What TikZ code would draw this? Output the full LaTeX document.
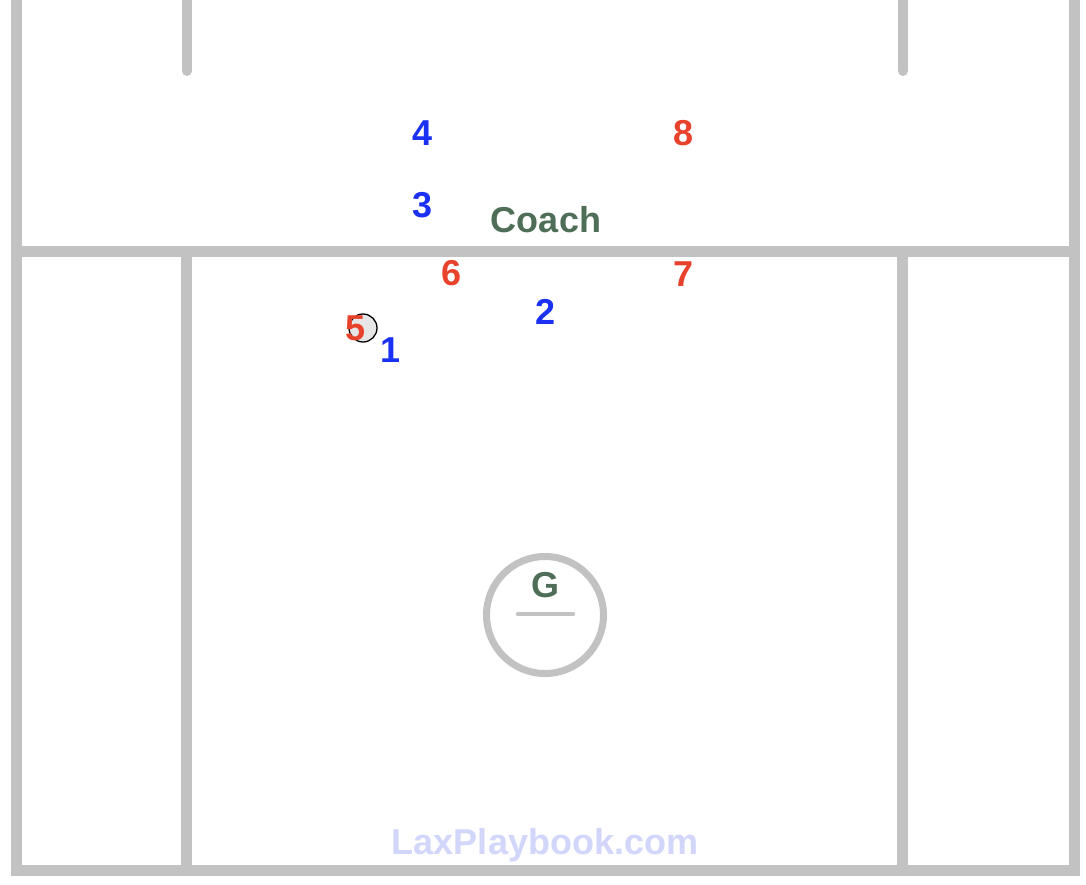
\documentclass[tikz,border=0pt]{standalone}
\usepackage{fontspec}
\setmainfont{Liberation Sans}
\newfontfamily\lblfont{Liberation Sans Bold}
\definecolor{fieldgray}{HTML}{C2C2C2}
\definecolor{offblue}{HTML}{1A30F2}
\definecolor{defred}{HTML}{E8422C}
\definecolor{coachgreen}{HTML}{4E6E58}
\definecolor{wmark}{HTML}{D2D6FA}
\definecolor{ballfill}{HTML}{E6E6E6}
\begin{document}
\begin{tikzpicture}[x=1pt,y=-1pt,
  fieldline/.style={draw=fieldgray,line width=11pt},
  lbl/.style={inner sep=0pt,font=\lblfont\fontsize{36}{36}\selectfont},
  blueplayer/.style={lbl,text=offblue},
  redplayer/.style={lbl,text=defred},
  greenlbl/.style={lbl,text=coachgreen}]
\fill[white] (0,0) rectangle (1086,884);
\useasboundingbox (0,0) rectangle (1086,884);
% field lines
\draw[fieldline,line join=miter] (16,0) -- (16,870) -- (1074,870) -- (1074,0);
\draw[fieldline] (16,251.5) -- (1074,251.5);
\draw[fieldline] (186,251.5) -- (186,870);
\draw[fieldline] (902,251.5) -- (902,870);
\draw[fieldline,line width=10pt,line cap=round] (187,0) -- (187,71);
\draw[fieldline,line width=10pt,line cap=round] (903,0) -- (903,71);
% goal crease
\draw[draw=fieldgray,line width=7pt] (545,615) circle (58.5);
\draw[draw=fieldgray,line width=4.5pt,line cap=round] (518,614) -- (573,614);
\node[greenlbl] (goalie) at (545,585) {G};
\node[greenlbl] (coach) at (546,220) {Coach};
% ball
\draw[fill=ballfill,draw=black,line width=1.3pt] (363,328) circle (14);
% players
\node[blueplayer] (p4) at (423,133) {4};
\node[redplayer] (p8) at (684,133) {8};
\node[blueplayer] (p3) at (423,205) {3};
\node[redplayer] (p6) at (452,273) {6};
\node[redplayer] (p7) at (684,274) {7};
\node[blueplayer] (p2) at (546,312) {2};
\node[redplayer] (p5) at (356,328) {5};
\node[blueplayer] (p1) at (391,350) {1};
% watermark
\node[lbl,text=wmark,anchor=base] (wm) at (545,854) {LaxPlaybook.com};
\end{tikzpicture}
\end{document}
